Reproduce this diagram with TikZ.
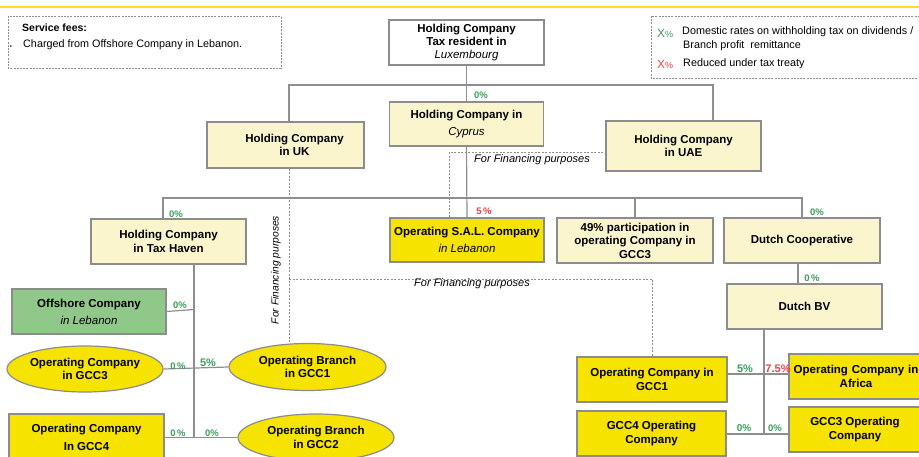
\documentclass[tikz,border=0pt]{standalone}
\usepackage{fontspec}
\setmainfont{Liberation Sans}
\usetikzlibrary{shapes.geometric}
\definecolor{paley}{HTML}{FBF5CD}
\definecolor{stry}{HTML}{F6E300}
\definecolor{offg}{HTML}{90C88A}
\definecolor{bord}{HTML}{8C8C8C}
\definecolor{lineg}{HTML}{8E8E8E}
\definecolor{pgreen}{HTML}{3C9C5A}
\definecolor{pred}{HTML}{E8414A}
\definecolor{topy}{HTML}{F5E31A}
\newcommand{\itl}[1]{{\mdseries\itshape #1}}
\begin{document}
\begin{tikzpicture}[x=1pt,y=-1pt,
  box/.style={draw=bord, line width=1.2pt, inner sep=1pt, align=center,
    font=\bfseries\fontsize{11.5}{13.5}\selectfont},
  pale/.style={box, fill=paley},
  strong/.style={box, fill=stry},
  oval/.style={box, fill=stry, ellipse, inner sep=0pt},
  conn/.style={draw=lineg, line width=1.2pt},
  fin/.style={draw=lineg, line width=0.7pt, dash pattern=on 2pt off 1.5pt},
  note/.style={draw=lineg, line width=0.7pt, dash pattern=on 2pt off 1.2pt},
  pg/.style={text=pgreen, font=\bfseries\fontsize{9.5}{10}\selectfont, inner sep=0pt},
  pgl/.style={text=pgreen, font=\bfseries\fontsize{11}{12}\selectfont, inner sep=0pt},
  pr/.style={text=pred, font=\bfseries\fontsize{9.5}{10}\selectfont, inner sep=0pt},
  prl/.style={text=pred, font=\bfseries\fontsize{11}{12}\selectfont, inner sep=0pt},
  fintxt/.style={font=\itshape\fontsize{11}{12}\selectfont, inner sep=0pt},
  legtxt/.style={font=\fontsize{10.8}{12}\selectfont, inner sep=0pt, anchor=west}
]
\useasboundingbox (0,0) rectangle (919,457);

% top yellow rule
\draw[topy, line width=2.5pt] (0,7) -- (919,7);

% notes
\draw[note] (8,16) rectangle (281,68);
\node[font=\bfseries\fontsize{10.5}{12}\selectfont, inner sep=0pt, anchor=west] (sfh) at (22,28) {Service fees:};
\node[font=\fontsize{6}{6}\selectfont, inner sep=0pt] (sfb) at (11,47) {•};
\node[legtxt] (sft) at (23,45) {Charged from Offshore Company in Lebanon.};

\draw[note] (651,16) rectangle (925,78);
\node[text=pgreen, font=\fontsize{12}{12}\selectfont, inner sep=0pt] (lg1) at (665,33) {X{\fontsize{9}{9}\selectfont\%}};
\node[legtxt] (lt1) at (682,32) {Domestic rates on withholding tax on dividends /};
\node[legtxt] (lt2) at (683,46) {Branch profit \ remittance};
\node[text=pred, font=\fontsize{12}{12}\selectfont, inner sep=0pt] (lg2) at (665,64) {X{\fontsize{9}{9}\selectfont\%}};
\node[legtxt] (lt3) at (683,64) {Reduced under tax treaty};

% boxes
\node[box, fill=white, minimum width=155, minimum height=45, font=\bfseries\fontsize{11.5}{12.8}\selectfont] (lux) at (466.5,42.5) {Holding Company\\Tax resident in\\\itl{Luxembourg}};
\node[pale, minimum width=154, minimum height=44] (cyp) at (466.5,124) {Holding Company in\\[4pt]\itl{Cyprus}};
\node[pale, minimum width=157, minimum height=46] (uk) at (285.5,145) {\hspace*{18pt}Holding Company\\\hspace*{18pt}in UK};
\node[pale, minimum width=155, minimum height=50] (uae) at (683.5,146) {Holding Company\\in UAE};
\node[pale, minimum width=155, minimum height=45] (th) at (168.5,241.5) {Holding Company\\in Tax Haven};
\node[strong, minimum width=154, minimum height=44] (sal) at (467,240) {Operating S.A.L. Company\\[3.5pt]\itl{in Lebanon}};
\node[pale, minimum width=156, minimum height=45] (p49) at (635,240.5) {49\% participation in\\operating Company in\\GCC3};
\node[pale, minimum width=156, minimum height=45] (dc) at (802,240.5) {Dutch Cooperative};
\node[pale, minimum width=155, minimum height=45] (bv) at (804.5,306.5) {Dutch BV};
\node[box, fill=offg, minimum width=154, minimum height=45] (off) at (89,311.5) {Offshore Company\\[3.5pt]\itl{in Lebanon}};
\node[oval, minimum width=156, minimum height=46] (oc3) at (85,369) {Operating Company\\in GCC3};
\node[oval, minimum width=157, minimum height=47] (br1) at (307.5,367) {Operating Branch\\in GCC1};
\node[strong, minimum width=155, minimum height=47] (oc4) at (86.5,437.5) {Operating Company\\[4.5pt]In GCC4};
\node[oval, minimum width=156, minimum height=47] (br2) at (316,437.5) {Operating Branch\\in GCC2};
\node[strong, minimum width=150, minimum height=45] (og1) at (652,379.5) {Operating Company in\\GCC1};
\node[strong, minimum width=134, minimum height=45, text width=134, inner sep=0pt] (afr) at (856,376.5) {Operating Company in\\Africa};
\node[strong, minimum width=149, minimum height=45] (g4) at (651.5,433.5) {GCC4 Operating\\Company};
\node[strong, minimum width=132, minimum height=45] (g3) at (855,429.5) {GCC3 Operating\\Company};

% junction coordinates
\coordinate (b1L) at (289,85);
\coordinate (b1R) at (713,85);
\coordinate (b2L) at (163,198);
\coordinate (b2R) at (802,198);
\coordinate (f2a) at (289,279);
\coordinate (j3) at (764,434);
\coordinate (h3) at (764,374);
\coordinate (j4) at (194,438);

% solid connectors
\draw[conn] (lux.south) -- (cyp.north);
\draw[conn] (uk.north -| b1L) -- (b1L) -- (b1R) -- (uae.north -| b1R);
\draw[conn] (th.north -| b2L) -- (b2L) -- (b2R) -- (dc.north -| b2R);
\draw[conn] (cyp.south) -- (sal.north);
\draw[conn] (p49.north) -- (p49.north |- b2L);
\draw[conn] ([xshift=-4pt]dc.south) -- ([xshift=-4pt]dc.south |- bv.north);
\draw[conn] (bv.south -| j3) -- (j3);
\draw[conn] (og1.east |- h3) -- (afr.west |- h3);
\draw[conn] (g4.east |- j3) -- (g3.west |- j3);
\draw[conn] (th.south -| j4) -- (j4);
\draw[conn] (off.east) -- ([yshift=2pt]off.east -| j4);
\draw[conn] (oc3.east) -- (br1.west);
\draw[conn] (oc4.east) -- (br2.west);

% financing connectors (dashed)
\draw[fin] ([xshift=-17.5pt]sal.north) |- ([yshift=-6pt]uae.west);
\draw[fin] (uk.south -| b1L) -- (br1.north -| b1L);
\draw[fin] (f2a) -| (og1.north);

% financing labels
\node[fintxt] (fl1) at (532,160) {For Financing purposes};
\node[fintxt] (fl2) at (472,284) {For Financing purposes};
\node[fintxt, rotate=90, font=\itshape\fontsize{10.3}{12}\selectfont] (fl3) at (276,270) {For Financing purposes};

% percentages
\node[pg] (p1) at (481,95) {0\%};
\node[pg] (p2) at (176,214) {0\%};
\node[pr] (p3) at (484,211) {5\,\%};
\node[pg] (p4) at (817,212) {0\%};
\node[pg] (p5) at (812,278) {0\,\%};
\node[pg] (p6) at (180,305) {0\%};
\node[pg] (p7) at (178,366) {0\,\%};
\node[pgl] (p8) at (208,363) {5\%};
\node[pg] (p9) at (178,433) {0\,\%};
\node[pg] (p10) at (212,433) {0\%};
\node[pgl] (p11) at (745,369) {5\%};
\node[prl] (p12) at (778,369) {7.5\%};
\node[pgl, font=\bfseries\fontsize{10}{11}\selectfont] (p13) at (744,428) {0\%};
\node[pg] (p14) at (775,428) {0\%};
\end{tikzpicture}
\end{document}
